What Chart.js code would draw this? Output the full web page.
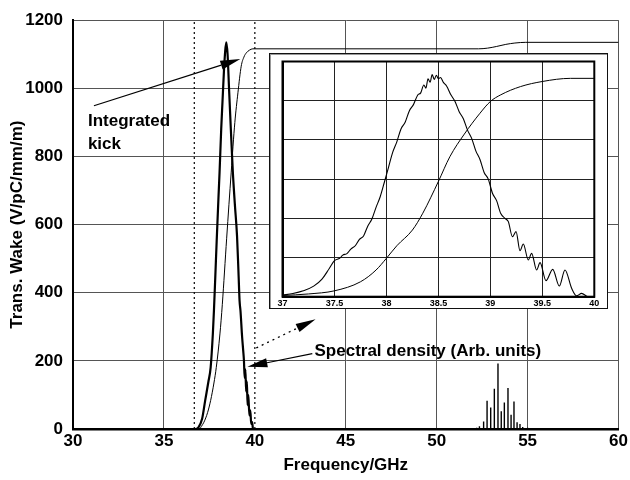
<!DOCTYPE html>
<html>
<head>
<meta charset="utf-8">
<script src="https://cdn.jsdelivr.net/npm/chart.js"></script>
<style>
  body { margin: 0; background: #fff; }
  #wrap { position: relative; width: 630px; height: 480px; }
  #inset {
    position: absolute; left: 269px; top: 53px; width: 337px; height: 254px;
    border: 1px solid #111; background: #fff; box-shadow: inset 1px 1px 0 #999;
  }
  canvas { display: block; }
</style>
</head>
<body>
<div id="wrap">
  <canvas id="mainChart" width="630" height="480"></canvas>
  <div id="inset"><canvas id="insetChart" width="337" height="254"></canvas></div>
</div>
<script>
// ---- data ----
const xTicks = [30, 35, 40, 45, 50, 55, 60];
const yTicks = [0, 200, 400, 600, 800, 1000, 1200];
const insetXTicks = [37, 37.5, 38, 38.5, 39, 39.5, 40];
const insetYTicks = [0, 1, 2, 3, 4, 5, 6];

// spectral density, main plot (GHz, arb.)
const spectralX = [36.60, 36.70, 36.90, 37.10, 37.27, 37.45, 37.57, 37.69, 37.75, 37.82, 37.90, 38.00, 38.06, 38.15, 38.22, 38.30, 38.37, 38.43, 38.50, 38.58, 38.68, 38.79, 38.90, 39.02, 39.10, 39.16, 39.21, 39.30, 39.36, 39.40, 39.44, 39.48, 39.52, 39.56, 39.60, 39.64, 39.70, 39.75, 39.80, 39.85, 39.90, 40.20];
const spectralY = [0, 0, 5, 30, 84, 140, 181, 279, 347, 440, 550, 680, 754, 880, 960, 1050, 1110, 1135, 1100, 1000, 880, 754, 660, 567, 460, 376, 347, 270, 230, 201, 150, 175, 110, 140, 70, 100, 40, 55, 15, 20, 0, 0];

// integrated kick, main plot
const kickX = [30, 36.95, 37.05, 37.2, 37.4, 37.57, 37.75, 37.88, 38.08, 38.21, 38.45, 38.7, 38.9, 39.07, 39.25, 39.4, 39.53, 39.7, 39.89, 45, 52.3, 52.8, 53.3, 53.8, 54.3, 54.9, 60];
const kickY = [0, 0, 7, 20, 48, 84, 135, 181, 279, 365, 560, 754, 900, 987, 1065, 1092, 1104, 1112, 1116, 1116, 1116, 1118, 1123, 1129, 1133, 1135, 1135];

// spectral lines near 53 GHz
const lineX = [51.3, 51.6, 51.9, 52.2, 52.35, 52.58, 52.77, 52.97, 53.17, 53.37, 53.55, 53.72, 53.92, 54.09, 54.25, 54.42, 54.58, 54.73, 55.0, 55.4, 55.9];
const lineH = [2, 2, 3, 4, 8, 22, 83, 63, 118, 192, 52, 78, 120, 42, 81, 20, 15, 6, 4, 3, 2];

// dotted markers
const markerX = [36.67, 40.0];

// inset: spectral density (zoom 37-40 GHz)
const insetSpecX = [37.00, 37.10, 37.20, 37.30, 37.38, 37.45, 37.50, 37.55, 37.58, 37.62, 37.66, 37.70, 37.74, 37.78, 37.82, 37.86, 37.90, 37.94, 37.98, 38.02, 38.06, 38.10, 38.14, 38.18, 38.22, 38.26, 38.30, 38.33, 38.36, 38.38, 38.40, 38.42, 38.44, 38.46, 38.48, 38.50, 38.52, 38.55, 38.58, 38.62, 38.66, 38.70, 38.74, 38.78, 38.82, 38.86, 38.90, 38.94, 38.98, 39.02, 39.06, 39.10, 39.14, 39.173, 39.212, 39.247, 39.285, 39.317, 39.365, 39.397, 39.445, 39.478, 39.535, 39.60, 39.663, 39.718, 39.782, 39.83, 39.878, 39.94, 40.0];
const insetSpecY = [0.04, 0.08, 0.15, 0.27, 0.45, 0.72, 0.92, 0.98, 1.06, 1.10, 1.22, 1.30, 1.46, 1.55, 1.80, 1.98, 2.28, 2.55, 2.92, 3.30, 3.68, 3.95, 4.28, 4.45, 4.74, 4.90, 5.14, 5.20, 5.40, 5.32, 5.56, 5.47, 5.67, 5.54, 5.65, 5.56, 5.59, 5.46, 5.37, 5.15, 4.98, 4.72, 4.54, 4.25, 4.04, 3.72, 3.50, 3.17, 3.00, 2.64, 2.45, 2.12, 2.00, 1.915, 1.532, 1.66, 1.174, 1.345, 0.936, 1.106, 0.681, 0.868, 0.409, 0.698, 0.272, 0.681, 0.213, 0.02, 0.085, 0.0, 0.0];

// inset: integrated kick
const insetKickX = [37.0, 37.25, 37.5, 37.75, 37.9, 38.0, 38.1, 38.25, 38.35, 38.5, 38.61, 38.75, 38.9, 39.0, 39.1, 39.29, 39.5, 39.77, 40.0];
const insetKickY = [0.03, 0.07, 0.15, 0.38, 0.68, 0.98, 1.3, 1.7, 2.13, 2.94, 3.57, 4.15, 4.68, 4.98, 5.15, 5.36, 5.49, 5.57, 5.57];

// ---- helpers ----
const FONT = '"Liberation Sans", Arial, Helvetica, sans-serif';
function pts(xs, ys) { return xs.map((x, i) => ({ x: x, y: ys[i] })); }

function spikePts(xs, hs) {
  const out = [];
  xs.forEach((x, i) => { out.push({ x: x, y: 0 }, { x: x, y: hs[i] }, { x: x, y: 0 }); });
  return out;
}

function drawArrow(ctx, x1, y1, x2, y2, dashed) {
  const ang = Math.atan2(y2 - y1, x2 - x1);
  const len = 20, half = 4.5;
  const bx = x2 - len * Math.cos(ang), by = y2 - len * Math.sin(ang);
  ctx.save();
  ctx.strokeStyle = '#000';
  ctx.fillStyle = '#000';
  ctx.lineWidth = dashed ? 1.3 : 1.2;
  if (dashed) ctx.setLineDash([2, 4]);
  ctx.beginPath();
  ctx.moveTo(x1, y1);
  ctx.lineTo(bx, by);
  ctx.stroke();
  ctx.setLineDash([]);
  ctx.beginPath();
  ctx.moveTo(x2, y2);
  ctx.lineTo(bx + half * Math.sin(ang), by - half * Math.cos(ang));
  ctx.lineTo(bx - half * Math.sin(ang), by + half * Math.cos(ang));
  ctx.closePath();
  ctx.fill();
  ctx.restore();
}

// labels and arrows on the main plot, placed in data units
const notesPlugin = {
  id: 'notes',
  afterDatasetsDraw(chart) {
    const ctx = chart.ctx, sx = chart.scales.x, sy = chart.scales.y;
    const px = v => sx.getPixelForValue(v), py = v => sy.getPixelForValue(v);
    ctx.save();
    ctx.fillStyle = '#000';
    ctx.font = 'bold 17px ' + FONT;
    ctx.textBaseline = 'alphabetic';
    ctx.textAlign = 'left';
    ctx.fillText('Integrated', px(30.82), py(890));
    ctx.fillText('kick', px(30.82), py(822));
    ctx.fillText('Spectral density (Arb. units)', px(43.28), py(215));
    ctx.restore();
    drawArrow(ctx, px(31.15), py(949), px(39.2), py(1086), false);
    drawArrow(ctx, px(43.16), py(221), px(39.59), py(183), false);
    drawArrow(ctx, px(40.08), py(238), px(43.34), py(322), true);
  }
};

const framePlugin = {
  id: 'frame',
  afterDatasetsDraw(chart) {
    const a = chart.chartArea, ctx = chart.ctx;
    ctx.save();
    ctx.strokeStyle = '#000';
    ctx.lineWidth = 2;
    ctx.strokeRect(a.left, a.top, a.right - a.left, a.bottom - a.top);
    ctx.restore();
  }
};

// ---- main chart ----
new Chart(document.getElementById('mainChart'), {
  type: 'line',
  data: {
    datasets: [
      {
        label: 'Spectral density',
        data: pts(spectralX, spectralY),
        borderColor: '#000', borderWidth: 2.2,
        pointRadius: 0, cubicInterpolationMode: 'monotone'
      },
      {
        label: 'Integrated kick',
        data: pts(kickX, kickY),
        borderColor: '#000', borderWidth: 1,
        pointRadius: 0, cubicInterpolationMode: 'monotone'
      },
      {
        label: 'Lines',
        data: spikePts(lineX, lineH),
        borderColor: '#000', borderWidth: 1.4,
        pointRadius: 0, tension: 0
      },
      ...markerX.map(x => ({
        label: 'marker',
        data: [{ x: x, y: 0 }, { x: x, y: 1200 }],
        borderColor: '#000', borderWidth: 1.2, borderDash: [2, 3],
        pointRadius: 0, tension: 0
      }))
    ]
  },
  options: {
    responsive: false,
    animation: false,
    devicePixelRatio: 1,
    layout: { padding: { top: 16, right: 11, left: 0, bottom: 0 } },
    plugins: { legend: { display: false }, tooltip: { enabled: false } },
    scales: {
      x: {
        type: 'linear', min: 30, max: 60,
        afterBuildTicks: s => { s.ticks = xTicks.map(v => ({ value: v })); },
        afterFit: s => { s.height = 51; },
        ticks: { font: { family: FONT, size: 17, weight: 'bold' }, color: '#000', padding: 2, maxRotation: 0, callback: v => String(v) },
        grid: { color: c => (c.tick && c.tick.value === 40 ? 'rgba(0,0,0,0)' : '#555'), lineWidth: 1, drawTicks: false },
        border: { display: true, color: '#000', width: 2.5 },
        title: { display: true, text: 'Frequency/GHz', color: '#000', font: { family: FONT, size: 17, weight: 'bold' }, padding: { top: 0, bottom: 4 } }
      },
      y: {
        min: 0, max: 1200,
        afterBuildTicks: s => { s.ticks = yTicks.map(v => ({ value: v })); },
        afterFit: s => { s.width = 73; },
        ticks: { font: { family: FONT, size: 17, weight: 'bold' }, color: '#000', padding: 10, callback: v => String(v) },
        grid: { color: '#555', lineWidth: 1, drawTicks: false },
        border: { display: true, color: '#000', width: 2 },
        title: { display: true, text: 'Trans. Wake (V/pC/mm/m)', color: '#000', font: { family: FONT, size: 17, weight: 'bold' }, padding: { top: 7, bottom: 0 } }
      }
    }
  },
  plugins: [notesPlugin]
});

// ---- inset chart ----
new Chart(document.getElementById('insetChart'), {
  type: 'line',
  data: {
    datasets: [
      {
        label: 'Spectral density',
        data: pts(insetSpecX, insetSpecY),
        borderColor: '#000', borderWidth: 1.1,
        pointRadius: 0, cubicInterpolationMode: 'monotone'
      },
      {
        label: 'Integrated kick',
        data: pts(insetKickX, insetKickY),
        borderColor: '#000', borderWidth: 1,
        pointRadius: 0, cubicInterpolationMode: 'monotone'
      }
    ]
  },
  options: {
    responsive: false,
    animation: false,
    devicePixelRatio: 1,
    layout: { padding: { top: 7.5, right: 12.7, left: 12.5, bottom: 0 } },
    plugins: { legend: { display: false }, tooltip: { enabled: false } },
    scales: {
      x: {
        type: 'linear', min: 37, max: 40,
        afterBuildTicks: s => { s.ticks = insetXTicks.map(v => ({ value: v })); },
        afterFit: s => { s.height = 11.3; },
        ticks: { font: { family: FONT, size: 9, weight: 'bold' }, color: '#000', padding: 1, maxRotation: 0, callback: v => String(v) },
        grid: { color: '#222', lineWidth: 1, drawTicks: false },
        border: { display: true, color: '#000', width: 2 }
      },
      y: {
        min: 0, max: 6,
        afterBuildTicks: s => { s.ticks = insetYTicks.map(v => ({ value: v })); },
        afterFit: s => { s.width = 0; },
        ticks: { display: false },
        grid: { color: '#222', lineWidth: 1, drawTicks: false },
        border: { display: true, color: '#000', width: 2 }
      }
    }
  },
  plugins: [framePlugin]
});
</script>
</body>
</html>
